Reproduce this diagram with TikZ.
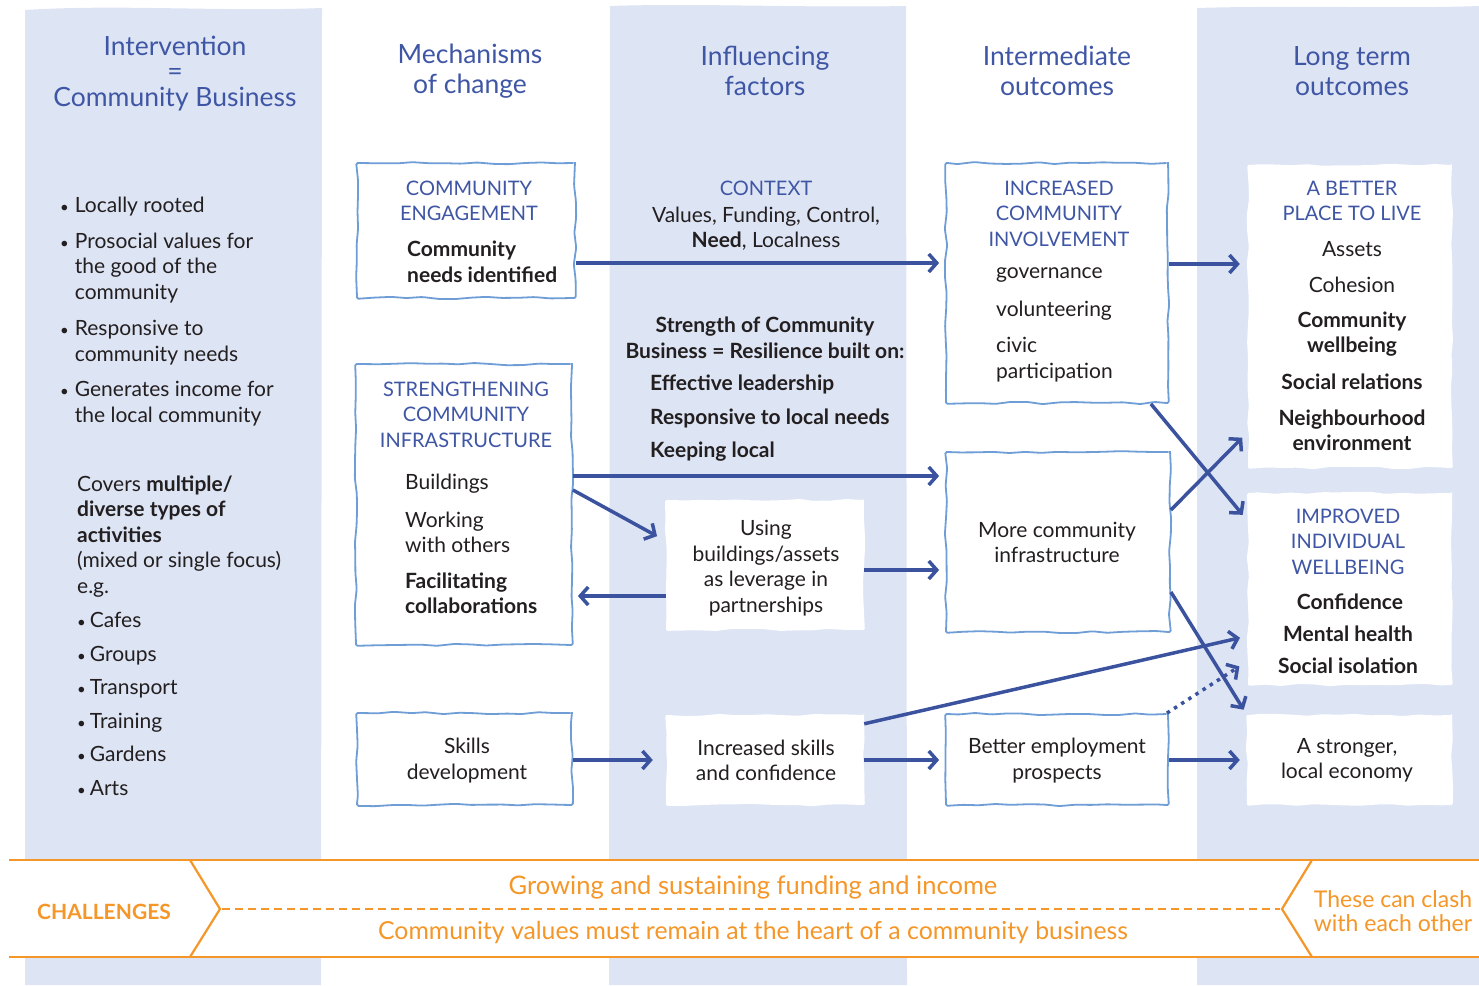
\documentclass[tikz,border=0pt]{standalone}
\usepackage{fontspec}
\setmainfont{Lato}
\usetikzlibrary{arrows.meta,decorations.pathmorphing}
\definecolor{bandc}{RGB}{221,228,244}
\definecolor{hblue}{RGB}{63,86,165}
\definecolor{boxc}{RGB}{111,157,214}
\definecolor{arrowc}{RGB}{59,83,158}
\definecolor{textc}{RGB}{35,31,32}
\definecolor{orangec}{RGB}{245,150,40}
\newcommand\fs[2]{\fontsize{#1}{#2}\selectfont}
\newcommand\bul{{\fs{15}{15}•}}
\tikzset{
  hdr/.style={font=\fs{26.5}{25.5}, text=hblue, align=center, inner sep=0pt},
  hdrb/.style={font=\fs{26.5}{30}, text=hblue, align=center, inner sep=0pt},
  caps/.style={font=\fs{20}{25.5}, text=hblue, align=center, inner sep=0pt},
  body/.style={font=\fs{21}{25.5}, text=textc, align=center, inner sep=0pt, yshift=-2pt},
  bodyl/.style={font=\fs{21}{25.5}, text=textc, align=left, inner sep=0pt, anchor=west, yshift=-2pt},
  bold/.style={font=\fs{21}{25.5}\bfseries, text=textc, align=center, inner sep=0pt, yshift=-2pt},
  boldl/.style={font=\fs{21}{25.5}\bfseries, text=textc, align=left, inner sep=0pt, anchor=west, yshift=-2pt},
  hand/.style={decorate, decoration={random steps, segment length=16pt, amplitude=1.2pt}, rounded corners=1.5pt},
  bbox/.style={hand, draw=boxc, line width=1.8pt, fill=white, rectangle, inner sep=0pt},
  wbox/.style={hand, fill=white, rectangle, inner sep=0pt},
  arr/.style={draw=arrowc, line width=3.5pt, -{Straight Barb[length=8pt,width=18pt]}},
  otext/.style={text=orangec, align=center, inner sep=0pt},
}
\begin{document}
\pgfmathsetseed{7}
\begin{tikzpicture}[x=1pt,y=-1pt]
\useasboundingbox (0,0) rectangle (1479,985);
% column bands
\fill[bandc] (25,10) .. controls (120,4) and (220,12) .. (322,8) -- (321,985) -- (25,985) -- cycle;
\fill[bandc] (610,6) .. controls (700,3) and (800,8) .. (906,6) -- (907,985) -- (609,985) -- cycle;
\fill[bandc] (1197,8) .. controls (1300,5) and (1400,9) .. (1479,6) -- (1479,985) -- (1197,985) -- cycle;

% headers
\node[hdr] (h1) at (175,73.5) {Intervention\\=\\Community Business};
\node[hdrb] (h2) at (470,71) {Mechanisms\\of change};
\node[hdrb] (h3) at (765,71) {Influencing\\factors};
\node[hdrb] (h4) at (1057,71) {Intermediate\\outcomes};
\node[hdrb] (h5) at (1352,71) {Long term\\outcomes};

% left column
\node[bodyl] (l1) at (60,205) {\bul\hspace{6pt}Locally rooted};
\node[bodyl] (l2) at (60,266) {\bul\hspace{6pt}Prosocial values for\\\hphantom{\bul\hspace{6pt}}the good of the\\\hphantom{\bul\hspace{6pt}}community};
\node[bodyl] (l3) at (60,340.5) {\bul\hspace{6pt}Responsive to\\\hphantom{\bul\hspace{6pt}}community needs};
\node[bodyl] (l4) at (60,401.5) {\bul\hspace{6pt}Generates income for\\\hphantom{\bul\hspace{6pt}}the local community};
\node[bodyl] (l5) at (77,534.5) {Covers \textbf{multiple/}\\\textbf{diverse types of}\\\textbf{activities}\\(mixed or single focus)\\e.g.};
\node[bodyl, font=\fs{21}{33.6}] (l6) at (77,702) {\bul\hspace{4pt}Cafes\\\bul\hspace{4pt}Groups\\\bul\hspace{4pt}Transport\\\bul\hspace{4pt}Training\\\bul\hspace{4pt}Gardens\\\bul\hspace{4pt}Arts};

% bordered boxes
\node[bbox, minimum width=218pt, minimum height=135pt] (ce) at (466,230.5) {};
\node[bbox, minimum width=216pt, minimum height=281pt] (sci) at (464,504.5) {};
\node[bbox, minimum width=215pt, minimum height=92pt] (skl) at (464.5,759) {};
\node[bbox, minimum width=222pt, minimum height=240pt] (ici) at (1057,283) {};
\node[bbox, minimum width=224pt, minimum height=180pt] (mci) at (1058,542) {};
\node[bbox, minimum width=222pt, minimum height=91pt] (bep) at (1057,759.5) {};
% white boxes
\node[wbox, minimum width=198pt, minimum height=130pt] (ubl) at (765,565) {};
\node[wbox, minimum width=198pt, minimum height=90pt] (isc) at (765,760) {};
\node[wbox, minimum width=204pt, minimum height=303pt] (bpl) at (1350,316.5) {};
\node[wbox, minimum width=204pt, minimum height=192pt] (iiw) at (1350,589) {};
\node[wbox, minimum width=205pt, minimum height=90pt] (sle) at (1349.5,760) {};

% box texts
\node[caps] (ce1) at (469,201) {COMMUNITY\\ENGAGEMENT};
\node[boldl] (ce2) at (407,260) {Community\\needs identified};
\node[caps] (sci1) at (466,414.5) {STRENGTHENING\\COMMUNITY\\INFRASTRUCTURE};
\node[bodyl] (sci2) at (405,482) {Buildings};
\node[bodyl] (sci3) at (405,530.5) {Working\\with others};
\node[boldl] (sci4) at (405,591.5) {Facilitating\\collaborations};
\node[body] (skl1) at (467,758.5) {Skills\\development};

\node[caps] (cx1) at (766,188) {CONTEXT};
\node[body] (cx2) at (766,226.5) {Values, Funding, Control,\\\textbf{Need}, Localness};
\node[bold] (st1) at (765,336) {Strength of Community\\Business = Resilience built on:};
\node[boldl, font=\fs{21}{33.5}\bfseries] (st2) at (650,416.5) {Effective leadership\\Responsive to local needs\\Keeping local};
\node[body] (ubl1) at (766,566) {Using\\buildings/assets\\as leverage in\\partnerships};
\node[body] (isc1) at (766,758.5) {Increased skills\\and confidence};

\node[caps] (ici1) at (1059,213.5) {INCREASED\\COMMUNITY\\INVOLVEMENT};
\node[bodyl] (ici2) at (996,273) {governance};
\node[bodyl] (ici3) at (996,309) {volunteering};
\node[bodyl] (ici4) at (996,357.5) {civic\\participation};
\node[body] (mci1) at (1057,540.5) {More community\\infrastructure};
\node[body] (bep1) at (1057,758.5) {Better employment\\prospects};

\node[caps] (bpl1) at (1352,201) {A BETTER\\PLACE TO LIVE};
\node[body] (bpl2) at (1352,247) {Assets};
\node[body] (bpl3) at (1352,283) {Cohesion};
\node[bold] (bpl4) at (1352,332) {Community\\wellbeing};
\node[bold] (bpl5) at (1352,380) {Social relations};
\node[bold] (bpl6) at (1352,428.5) {Neighbourhood\\environment};
\node[caps] (iiw1) at (1348,541.5) {IMPROVED\\INDIVIDUAL\\WELLBEING};
\node[bold] (iiw2) at (1350,600) {Confidence};
\node[bold] (iiw3) at (1348,632) {Mental health};
\node[bold] (iiw4) at (1348,664) {Social isolation};
\node[body] (sle1) at (1347,758.5) {A stronger,\\local economy};

% arrows
\draw[arr, shorten >=6pt] (ce.east |- 0,263) -- (ici.west |- 0,263);
\draw[arr, shorten >=6pt] (sci.east |- 0,476) -- (mci.west |- 0,476);
\draw[arr, shorten >=10pt] (sci.east |- 0,490) -- (ubl.west |- 0,541);
\draw[arr, shorten >=5pt] (ubl.west |- 0,596) -- (sci.east |- 0,596);
\draw[arr, shorten >=6pt] (ubl.east |- 0,570) -- (mci.west |- 0,570);
\draw[arr, shorten >=13pt] (skl.east |- 0,760) -- (isc.west |- 0,760);
\draw[arr, shorten >=6pt] (isc.east |- 0,760) -- (bep.west |- 0,760);
\draw[arr, shorten >=7pt] (bep.east |- 0,760) -- (sle.west |- 0,760);
\draw[arr, shorten >=8pt] (ici.east |- 0,264) -- (bpl.west |- 0,264);
\draw[arr, shorten >=8pt] ([xshift=-18pt]ici.south east) -- (iiw.west |- 0,521);
\draw[arr, shorten >=8pt] (mci.east |- 0,510) -- (bpl.west |- 0,432);
\draw[arr, shorten >=6pt] (mci.east |- 0,592) -- (sle.north west);
\draw[arr, shorten >=8pt] ([yshift=-9pt]isc.north east) -- (iiw.west |- 0,636);
\draw[arr, dash pattern=on 3.5pt off 5pt, shorten >=10pt] ([xshift=-2pt]bep.north east) -- (iiw.west |- 0,661);

% challenges band
\fill[white] (9,860) rectangle (1479,957);
\draw[orangec, line width=2.5pt] (9,860) -- (1479,860);
\draw[orangec, line width=2.5pt] (9,957) -- (1479,957);
\draw[orangec, line width=2.2pt] (190,860) -- (220,909) -- (190,957);
\draw[orangec, line width=2.2pt] (1312,860) -- (1282,909) -- (1312,957);
\draw[orangec, line width=2pt, dash pattern=on 8pt off 5pt] (222,909) -- (1280,909);
\node[otext, font=\fs{21}{24}\bfseries] (ch) at (104,912) {CHALLENGES};
\node[otext, font=\fs{25.5}{28}] (ch1) at (753,887) {Growing and sustaining funding and income};
\node[otext, font=\fs{24.8}{28}] (ch2) at (753,932) {Community values must remain at the heart of a community business};
\node[otext, font=\fs{23}{24.5}] (ch3) at (1393,911) {These can clash\\with each other};
\end{tikzpicture}
\end{document}
